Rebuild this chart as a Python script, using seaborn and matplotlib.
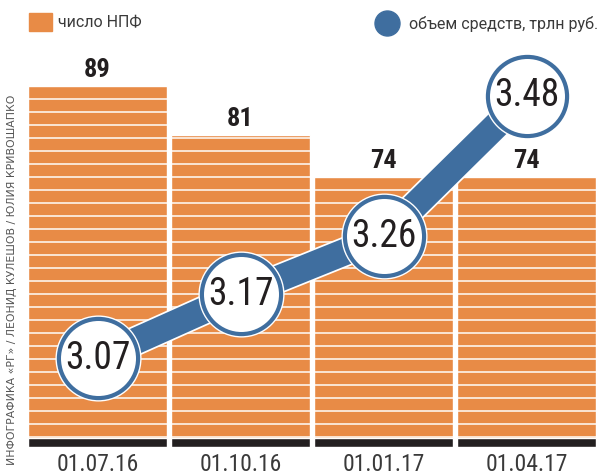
import numpy as np
import pandas as pd
import matplotlib
matplotlib.use('Agg')
import matplotlib.pyplot as plt
import matplotlib.patheffects as pe
from matplotlib.patches import Patch
from matplotlib.lines import Line2D
import seaborn as sns

# данные с картинки
dates = ['01.07.16', '01.10.16', '01.01.17', '01.04.17']
npf_count = [89, 81, 74, 74]
assets = [3.07, 3.17, 3.26, 3.48]

orange = '#E88B46'
blue = '#3F6E9F'
dark = '#231F20'

sns.set_style('white')
plt.rcParams['font.family'] = ['Roboto', 'DejaVu Sans']
narrow = ['DejaVu Sans Condensed', 'Roboto Condensed', 'DejaVu Sans']

df = pd.DataFrame({'date': dates, 'npf': npf_count, 'assets': assets})

fig = plt.figure(figsize=(6.05, 4.76), dpi=100)
ax = fig.add_axes([26 / 605, 29 / 476, 572 / 605, 407 / 476])

sns.barplot(data=df, x='date', y='npf', color=orange, width=0.97,
            saturation=1, ax=ax, zorder=1)
ax.set_ylim(29.6, 96.65)
ax.set_xlim(-0.5, 3.5)

# белые полосы и черная подложка
for s in np.arange(31.25, 96, 2.14):
    ax.axhline(s, color='white', lw=1.2, alpha=0.9, zorder=2)
ax.bar(np.arange(len(dates)), 1.5, bottom=29.6, width=0.97, color=dark, zorder=4)

for i, v in enumerate(npf_count):
    ax.annotate(str(v), (i, v), xytext=(0, 3), textcoords='offset points',
                ha='center', va='bottom', fontsize=19, fontweight='bold',
                color=dark, family=narrow)

ax.set_xlabel('')
ax.set_ylabel('')
ax.set_yticks([])
ax.tick_params(axis='x', length=0, pad=4)
for lab in ax.get_xticklabels():
    lab.set_family(narrow)
    lab.set_fontsize(17)
    lab.set_color('#3a3a3a')
sns.despine(ax=ax, left=True, bottom=True)

ax2 = ax.twinx()
xpos = np.arange(len(dates))
sns.lineplot(x=xpos, y=assets, ax=ax2, color=blue, lw=19,
             path_effects=[pe.Stroke(linewidth=21.5, foreground='white'),
                           pe.Normal()])
ax2.plot(xpos, assets, ls='', marker='o', markersize=61, color='white',
         zorder=3)
ax2.plot(xpos, assets, ls='', marker='o', markersize=57,
         markerfacecolor='white', markeredgecolor=blue, markeredgewidth=3,
         zorder=4)
ax2.set_ylim(2.931, 3.567)
ax2.set_xlim(-0.5, 3.5)
ax2.set_yticks([])
ax2.set_ylabel('')
sns.despine(ax=ax2, left=True, bottom=True, right=True)
for i, v in enumerate(assets):
    ax2.text(i, v, f'{v:.2f}', ha='center', va='center', fontsize=27,
             color=dark, family=narrow, zorder=5)

fig.text(12 / 605, 1 - 280 / 476,
         'ИНФОГРАФИКА «РГ» / ЛЕОНИД КУЛЕШОВ / ЮЛИЯ КРИВОШАПКО',
         rotation=90, ha='center', va='center', fontsize=7.8, color='#555555',
         family=['DejaVu Sans'])

leg1 = fig.legend(handles=[Patch(color=orange)], labels=['число НПФ'],
                  loc='center left', bbox_to_anchor=(29 / 605, 1 - 22 / 476),
                  frameon=False, fontsize=11.5, handlelength=1.45,
                  handleheight=1.45, handletextpad=0.35, borderpad=0,
                  borderaxespad=0, labelcolor='#3a3a3a')
leg2 = fig.legend(handles=[Line2D([], [], marker='o', ls='', markersize=18,
                                  color=blue)],
                  labels=['объем средств, трлн руб.'],
                  loc='center right', bbox_to_anchor=(598 / 605, 1 - 24 / 476),
                  frameon=False, fontsize=11.5, handlelength=1.2,
                  handletextpad=0.8, borderpad=0, borderaxespad=0,
                  labelcolor='#3a3a3a')

fig.savefig('out.png', dpi=100)
